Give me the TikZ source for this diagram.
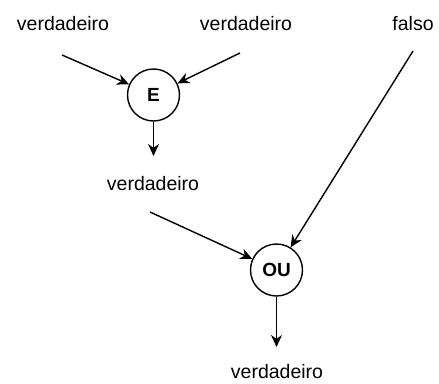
\documentclass[tikz,border=0pt]{standalone}
\usepackage{fontspec}
\setmainfont{Liberation Sans}
\usetikzlibrary{arrows.meta}
\begin{document}
\begin{tikzpicture}[x=1pt,y=-1pt,
  lbl/.style={inner sep=0pt,font=\fontsize{19.5}{22}\selectfont},
  gate/.style={circle,draw,line width=1.4pt,minimum size=52pt,inner sep=0pt,font=\bfseries\fontsize{19}{21}\selectfont},
  conn/.style={line width=1.4pt,-{Stealth[length=12pt,width=11pt]}}]
\useasboundingbox (0,0) rectangle (439,383);
\node[lbl] (t1) at (63,24) {verdadeiro};
\node[lbl] (t2) at (246,24) {verdadeiro};
\node[lbl] (t3) at (413,24) {falso};
\node[gate] (e) at (153.5,95) {E};
\node[lbl] (m) at (153,184) {verdadeiro};
\node[gate] (ou) at (276.5,270) {OU};
\node[lbl] (b) at (277,372) {verdadeiro};
\coordinate (s1) at (62,55);
\coordinate (s2) at (240,53);
\coordinate (d1) at (153.5,156);
\coordinate (s3) at (150,212);
\coordinate (s4) at (413,51);
\coordinate (d2) at (276.5,347);
\draw[conn] (s1) -- (e);
\draw[conn] (s2) -- (e);
\draw[conn] (e) -- (d1);
\draw[conn] (s3) -- (ou);
\draw[conn] (s4) -- (ou);
\draw[conn] (ou) -- (d2);
\end{tikzpicture}
\end{document}
